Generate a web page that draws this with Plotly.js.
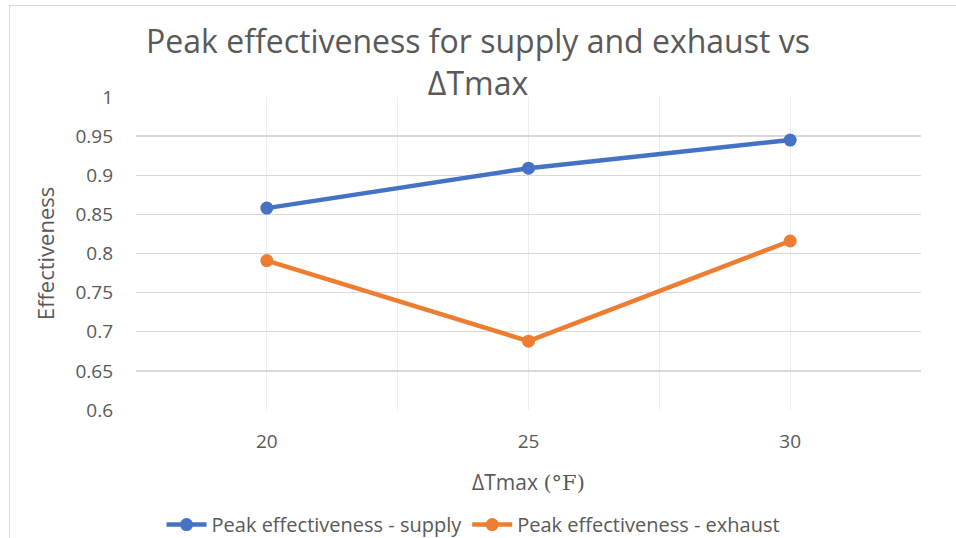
<!DOCTYPE html>
<html>
<head>
<meta charset="utf-8">
<script src="https://cdn.plot.ly/plotly-3.0.1.min.js"></script>
<style>
  html, body { margin: 0; padding: 0; background: #ffffff; }
  #frame { position: absolute; left: 9px; top: 5px; width: 960px; height: 540px;
           border-left: 1px solid #d9d9d9; border-top: 1px solid #d9d9d9; }
  #chart { position: absolute; left: 0; top: 0; width: 956px; height: 538px; }
</style>
</head>
<body>
<div id="frame"></div>
<div id="chart"></div>
<script>
// ΔTmax settings (°F)
const deltaTmax = [20, 25, 30];
// Peak effectiveness values per series
const supplyEff = [0.858, 0.909, 0.945];
const exhaustEff = [0.791, 0.688, 0.816];

const seriesNames = ['Peak effectiveness - supply', 'Peak effectiveness - exhaust'];

// Axis ticks
const xTickVals = [17.5, 20, 22.5, 25, 27.5, 30, 32.5];
const xTickText = ['', '20', '', '25', '', '30', ''];
const yTickVals = [0.6, 0.65, 0.7, 0.75, 0.8, 0.85, 0.9, 0.95, 1];
const yTickText = ['0.6', '0.65', '0.7', '0.75', '0.8', '0.85', '0.9', '0.95', '1'];

const FONT = '"Open Sans", "Noto Sans", sans-serif';
const TEXT = '#595959';

const traces = [
  {
    x: deltaTmax, y: supplyEff, name: seriesNames[0],
    type: 'scatter', mode: 'lines+markers',
    line: { color: '#4472C4', width: 4.5 },
    marker: { color: '#4472C4', size: 13 }
  },
  {
    x: deltaTmax, y: exhaustEff, name: seriesNames[1],
    type: 'scatter', mode: 'lines+markers',
    line: { color: '#ED7D31', width: 4.5 },
    marker: { color: '#ED7D31', size: 13 }
  }
];

const layout = {
  width: 956, height: 538,
  paper_bgcolor: 'rgba(0,0,0,0)',
  plot_bgcolor: '#ffffff',
  margin: { l: 136, r: 35, t: 97, b: 128, autoexpand: false },
  font: { family: FONT, color: TEXT, size: 19 },
  title: {
    text: 'Peak effectiveness for supply and exhaust vs<br>ΔTmax',
    font: { family: FONT, size: 32, color: TEXT },
    x: 0.5, xanchor: 'center', y: 0.901, yanchor: 'middle', yref: 'container'
  },
  xaxis: {
    range: [17.5, 32.5], automargin: false,
    tickmode: 'array', tickvals: xTickVals, ticktext: xTickText,
    showgrid: true, gridcolor: '#ededed', gridwidth: 1,
    zeroline: false, showline: false, ticks: '',
    tickfont: { size: 19, color: TEXT }, ticklabelstandoff: 18,
    title: { text: 'ΔTmax <span style="font-family:\'DejaVu Serif\', \'Liberation Serif\', serif">(°F)</span>',
             font: { size: 21, color: TEXT }, standoff: 22 }
  },
  yaxis: {
    range: [0.6, 1], automargin: false,
    tickmode: 'array', tickvals: yTickVals, ticktext: yTickText,
    showgrid: true, gridcolor: '#d9d9d9', gridwidth: 1.3,
    zeroline: false, showline: false, ticks: '',
    tickfont: { size: 19, color: TEXT }, ticklabelstandoff: 22,
    title: { text: 'Effectiveness', font: { size: 22, color: TEXT }, standoff: 14 }
  },
  legend: {
    orientation: 'h', x: 0.43, xanchor: 'center',
    y: 0.025, yanchor: 'middle', yref: 'container',
    font: { size: 20, color: TEXT }, itemwidth: 40, traceorder: 'normal'
  },
  showlegend: true
};

Plotly.newPlot('chart', traces, layout, { displayModeBar: false, staticPlot: true });
</script>
</body>
</html>
